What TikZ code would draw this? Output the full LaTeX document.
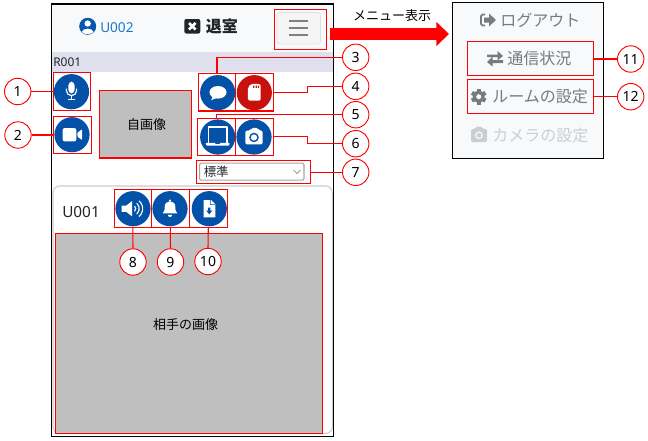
\documentclass[tikz,border=0pt]{standalone}
\usepackage{fontspec}
\setmainfont{Noto Sans}
\newfontfamily\jp{Noto Sans CJK JP}
\usetikzlibrary{fit,arrows.meta,calc}
\definecolor{rd}{HTML}{FF0000}
\definecolor{blu}{HTML}{0352A8}
\definecolor{sdred}{HTML}{C8100C}
\definecolor{lnk}{HTML}{1976C8}
\definecolor{hdr}{HTML}{F8F9FA}
\definecolor{band}{HTML}{DFDFEE}
\definecolor{img}{HTML}{BFBFBF}
\definecolor{mgray}{HTML}{777B80}
\definecolor{lgray}{HTML}{CBCDD0}
\definecolor{dark}{HTML}{212529}
\tikzset{
  rbox/.style={draw=rd,line width=.9pt,inner sep=0pt,outer sep=0pt},
  gbox/.style={rbox,fill=img},
  num/.style={circle,draw=rd,line width=.7pt,fill=white,minimum size=19.8pt,inner sep=0pt,font=\fontsize{10.5pt}{12pt}\selectfont},
  conn/.style={draw=rd,line width=.8pt},
  txt/.style={inner sep=0pt,font=\jp\fontsize{9.75pt}{12pt}\selectfont},
  menu/.style={inner sep=0pt,font=\jp\fontsize{12pt}{14pt}\selectfont},
}
\newcommand{\disc}[3]{\fill[#3] (#1,#2) circle[radius=17.6];}
\begin{document}
\begin{tikzpicture}[x=.75pt,y=-.75pt]
\useasboundingbox (0,0) rectangle (648,440);
\fill[white] (0,0) rectangle (648,440);
% phone
\fill[hdr] (52,4) rectangle (333,52);
\fill[band] (52,52) rectangle (333,72);
\draw[black,line width=.9pt] (51.5,4) rectangle (333.3,436.3);
\draw[lightgray!80,line width=.8pt,rounded corners=5pt,fill=white] (53,186) rectangle (332.3,433.5);
% header
\fill[blu!85!lnk] (87.7,26.3) circle[radius=8.5];
\fill[white] (87.7,23.5) circle[radius=3.2];
\fill[white] (81.8,32) .. controls (83,27.5) and (92.4,27.5) .. (93.6,32) .. controls (91,34.8) and (84.4,34.8) .. (81.8,32) -- cycle;
\node[inner sep=0pt,anchor=west,text=lnk,font=\fontsize{10.2pt}{13pt}\selectfont] (user) at (100,27.5) {U002};
\fill[dark,rounded corners=1.5pt] (184.3,19) rectangle (200.3,33.5);
\draw[white,line width=2pt] (189,23) -- (195.6,29.5) (195.6,23) -- (189,29.5);
\node[inner sep=0pt,anchor=west,text=dark,font=\jp\bfseries\fontsize{12pt}{14pt}\selectfont] (exit) at (205.5,26) {退室};
\node[inner sep=0pt,anchor=west,font=\fontsize{9pt}{11pt}\selectfont,text=dark] (room) at (53,62) {R001};
\draw[gray!25,fill=gray!8,line width=.5pt,rounded corners=2pt] (277,12.5) rectangle (320.5,44);
\draw[gray,line width=1.05pt] (289,21) -- (308,21) (289,28) -- (308,28) (289,35) -- (308,35);
% red boxes
\node[rbox,fit={(274.3,9.3)(326.3,49.3)}] (bmenu) {};
\node[gbox,fit={(99.3,90.3)(191.3,158)}] (self) {};
\node[txt] at (146.5,125) {自画像};
\node[gbox,fit={(55.3,233.3)(322.7,433.3)}] (remote) {};
\node[txt] at (185.5,325) {相手の画像};
\node[rbox,fit={(53.3,72.3)(90.7,110.3)}] (b1) {};
\node[rbox,fit={(53.3,116.3)(91.7,153.3)}] (b2) {};
\node[rbox,fit={(198.3,73.3)(235.7,111)}] (b3) {};
\node[rbox,fit={(235.7,73.3)(273.3,111)}] (b4) {};
\node[rbox,fit={(197.3,118.3)(235.7,155.3)}] (b5) {};
\node[rbox,fit={(235.7,118.3)(273.3,155.3)}] (b6) {};
\node[rbox,fit={(196.3,160.3)(310.3,183.3)}] (b7) {};
\node[rbox,fit={(114.3,189.3)(151.3,227.3)}] (b8) {};
\node[rbox,fit={(151.3,189.3)(189.3,227.3)}] (b9) {};
\node[rbox,fit={(189.3,189.3)(227.3,227.3)}] (b10) {};
% select
\draw[gray!70,fill=white,line width=.8pt,rounded corners=1pt] (199.6,163.2) rectangle (304,180.2);
\node[inner sep=0pt,anchor=west,font=\jp\fontsize{9.3pt}{11pt}\selectfont,text=dark] (sel) at (203.5,171.7) {標準};
\draw[gray!90!black,line width=.5pt] (293.5,170) -- (297,173.5) -- (300.5,170);
\node[inner sep=0pt,anchor=west,font=\fontsize{11.5pt}{14pt}\selectfont,text=dark] (peer) at (62,212) {U001};
% discs
\disc{71.5}{91.7}{blu}\disc{72}{134.7}{blu}\disc{217.7}{92.7}{blu}\disc{254.3}{92.7}{sdred}
\disc{217.7}{137}{blu}\disc{254}{137}{blu}\disc{133}{208.7}{blu}\disc{170}{208.7}{blu}\disc{209.3}{208.7}{blu}
% mic
\begin{scope}[shift={(71.5,90.5)},scale=.8]
\fill[white,rounded corners=2.6pt] (-3.8,-11) rectangle (3.8,3.6);
\draw[white,line width=.85pt] (-6.4,-2.2) -- (-6.4,0) arc[start angle=180,end angle=0,radius=6.4] -- (6.4,-2.2);
\draw[white,line width=.9pt] (0,6) -- (0,10.5) (-4,10.8) -- (4,10.8);
\end{scope}
% video
\begin{scope}[shift={(72,134.7)},scale=.78]
\fill[white,rounded corners=1.5pt] (-12,-8.5) rectangle (5.5,8.5);
\fill[white,rounded corners=.6pt] (7,-2.5) -- (13,-7) -- (13,7) -- (7,2.5) -- cycle;
\end{scope}
% chat
\begin{scope}[shift={(218,93)},scale=.7]
\fill[white] (0,-1) ellipse[x radius=12.2,y radius=9];
\fill[white] (-7,4) -- (-9.8,10.2) -- (-2,7.2) -- cycle;
\end{scope}
% sd
\begin{scope}[shift={(254.3,92.7)},scale=.8]
\fill[white,rounded corners=1.2pt] (-4,-11) -- (8,-11) -- (8,10) -- (-8,10) -- (-8,-6.5) -- cycle;
\fill[sdred] (-1.6,-9) rectangle (.2,-6) (1.6,-9) rectangle (3.2,-6) (4.4,-9) rectangle (6,-6);
\end{scope}
% pc
\begin{scope}[shift={(217.7,136)},scale=.95]
\draw[white,line width=1pt,line join=round] (-9.8,7) -- (-9.8,-9.5) -- (9.8,-9.5) -- (9.8,7);
\fill[white] (-12.4,7.2) -- (-3,7.2) -- (-2,8.6) -- (2,8.6) -- (3,7.2) -- (12.4,7.2) -- (12.4,9) -- (11.5,10) -- (-11.5,10) -- (-12.4,9) -- cycle;
\end{scope}
% camera
\begin{scope}[shift={(254,137)},scale=.92]
\fill[white,rounded corners=1.2pt] (-9.5,-7) -- (-4,-7) -- (-2.5,-10) -- (4,-10) -- (5.5,-7) -- (9.5,-7) -- (9.5,8) -- (-9.5,8) -- cycle;
\fill[blu] (0,.5) circle[radius=5.2];
\fill[white] (0,.5) circle[radius=3.4];
\end{scope}
% speaker
\begin{scope}[shift={(132,208.7)},scale=.8]
\fill[white] (-13,-4) -- (-7,-4) -- (0,-9.5) -- (0,9.5) -- (-7,4) -- (-13,4) -- cycle;
\draw[white,line width=.85pt] (3.2,-3.4) arc[start angle=-45,end angle=45,radius=4.8];
\draw[white,line width=.85pt] (6,-6.8) arc[start angle=-48,end angle=48,radius=9.2];
\draw[white,line width=.85pt] (8.8,-9.8) arc[start angle=-50,end angle=50,radius=12.8];
\end{scope}
% bell
\begin{scope}[shift={(170,208.7)},scale=.68]
\fill[white] (0,-12) circle[radius=1.8];
\fill[white] (-11,7) .. controls (-7.5,3) and (-7.8,0) .. (-7.8,-3) .. controls (-7.8,-8) and (-4,-10.8) .. (0,-10.8) .. controls (4,-10.8) and (7.8,-8) .. (7.8,-3) .. controls (7.8,0) and (7.5,3) .. (11,7) -- cycle;
\fill[white] (-3.2,9) arc[start angle=180,end angle=0,radius=3.2] -- cycle;
\end{scope}
% file
\begin{scope}[shift={(209.3,208.7)},scale=.72]
\fill[white] (-8,-12) -- (2.5,-12) -- (8.3,-6.2) -- (8.3,12) -- (-8,12) -- cycle;
\fill[blu] (2,-12) -- (2,-6) -- (8.3,-6) -- (8.3,-5.2) -- (1,-5.2) -- (1,-12) -- cycle;
\fill[blu] (-1.6,-1.5) rectangle (1.6,3) (-4.4,2.5) -- (4.4,2.5) -- (0,7.8) -- cycle;
\end{scope}
% numbers
\node[num] (c1) at (17.7,91.5) {1};
\node[num] (c2) at (18,135) {2};
\node[num] (c3) at (355.7,57.3) {3};
\node[num] (c4) at (355.7,86.3) {4};
\node[num] (c5) at (355.7,114.7) {5};
\node[num] (c6) at (355.7,143.7) {6};
\node[num] (c7) at (355.7,172.3) {7};
\node[num] (c8) at (133,262) {8};
\node[num] (c9) at (170.5,262) {9};
\node[num] (c10) at (208,261.5) {10};
\node[num] (c11) at (630.7,59) {11};
\node[num] (c12) at (630.7,96.7) {12};
% menu panel
\node[draw=black,line width=.9pt,fill=hdr,inner sep=0pt,outer sep=0pt,fit={(452.3,2.7)(603.3,158.3)}] (panel) {};
\node[rbox,fit={(467.3,41.7)(593.3,75.3)}] (b11) {};
\node[rbox,fit={(467.3,79.3)(593.3,113.3)}] (b12) {};
\node[menu,text=mgray,anchor=west] (logout) at (500,20) {ログアウト};
\node[menu,text=mgray,anchor=west] (stat) at (507,58.5) {通信状況};
\node[menu,text=mgray,anchor=west] (room2) at (492,96.5) {ルームの設定};
\node[menu,text=lgray,anchor=west] (cam) at (492,135) {カメラの設定};
% logout icon
\draw[mgray,line width=1.4pt,rounded corners=1.2pt] (485,14.5) -- (481,14.5) -- (481,25.5) -- (485,25.5);
\fill[mgray] (484,17.5) -- (489,17.5) -- (489,13.5) -- (496,20) -- (489,26.5) -- (489,22.5) -- (484,22.5) -- cycle;
% exchange icon
\fill[mgray] (487,54.5) -- (497.5,54.5) -- (497.5,51) -- (503,56) -- (497.5,60.5) -- (497.5,57) -- (487,57) -- cycle;
\fill[mgray] (503,60) -- (492.5,60) -- (492.5,56.5) -- (487,62) -- (492.5,66.5) -- (492.5,63) -- (503,63) -- cycle;
% gear
\fill[mgray] (478.7,96.7) circle[radius=6];
\foreach \a in {0,60,...,300}{\fill[mgray,rotate around={\a:(478.7,96.7)}] (476.6,88.9) rectangle (480.8,92);}
\fill[hdr] (478.7,96.7) circle[radius=2.5];
% cam icon
\fill[lgray,rounded corners=1pt] (471,129) -- (475,129) -- (476.5,126.5) -- (481.5,126.5) -- (483,129) -- (487,129) -- (487,142) -- (471,142) -- cycle;
\fill[hdr] (479,135.3) circle[radius=3.9];
\fill[lgray] (479,135.3) circle[radius=2.4];
% connectors
\coordinate (e4) at (307.3,90);
\coordinate (e6) at (307.3,140);
\draw[conn] (c1.east) -- (c1.east -| b1.west);
\draw[conn] (c2.east) -- (c2.east -| b2.west);
\draw[conn] (c3.west) -| (b3.north);
\draw[conn] (b4.east) -- (b4.east -| e4) -- (e4 |- c4) -- (c4.west);
\draw[conn] (c5.west) -| (b5.north);
\draw[conn] (b6.east) -- (b6.east -| e6) -- (e6 |- c6) -- (c6.west);
\draw[conn] (b7.east |- c7) -- (c7.west);
\draw[conn] (b8.south) -- (c8.north);
\draw[conn] (b9.south) -- (c9.north);
\draw[conn] (b10.south) -- (c10.north);
\draw[conn] (b11.east |- c11) -- (c11.west);
\draw[conn] (b12.east |- c12) -- (c12.west);
% big arrow
\coordinate (a1) at (330,34);
\coordinate (a2) at (449,34);
\draw[rd,line width=8.8pt,-{Triangle[length=9.4pt,width=17.4pt,sep=0pt]}] (a1) -- (a2);
\node[txt,text=black] (label) at (392,16) {メニュー表示};
\end{tikzpicture}
\end{document}
